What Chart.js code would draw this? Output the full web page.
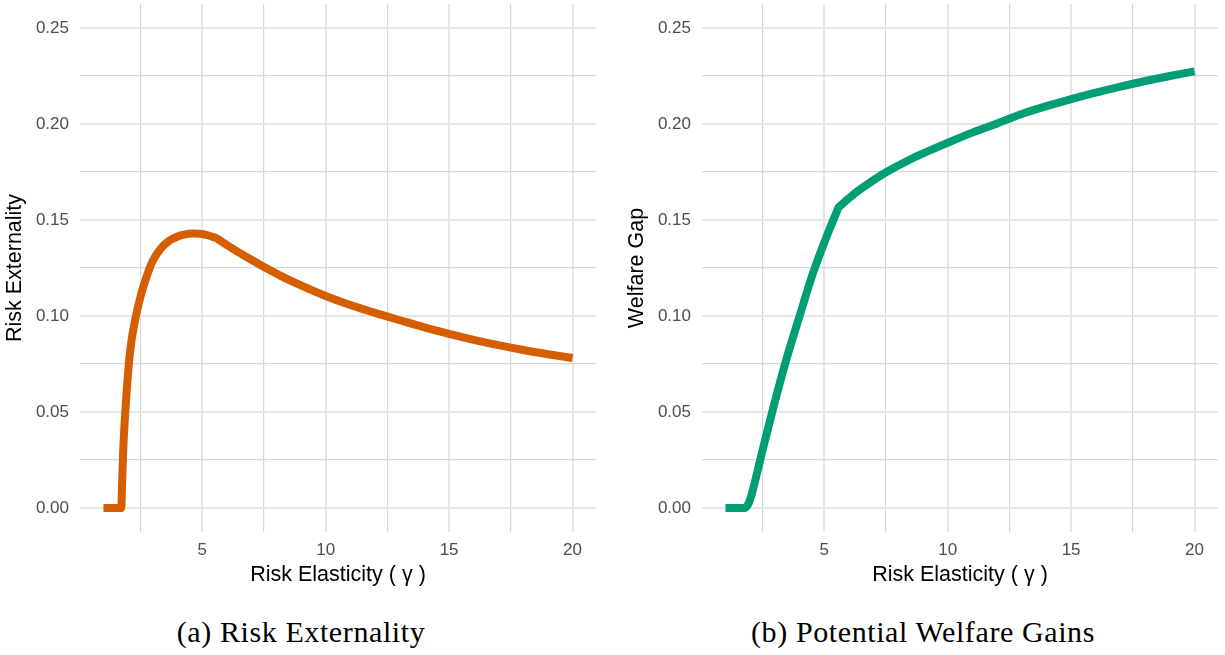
<!DOCTYPE html>
<html>
<head>
<meta charset="utf-8">
<script src="https://cdn.jsdelivr.net/npm/chart.js@4.4.1/dist/chart.umd.min.js"></script>
<style>
    body { margin: 0; background: #fff; width: 1225px; height: 655px; position: relative; overflow: hidden; }
    .panel { position: absolute; top: 0; height: 600px; }
    .caption { position: absolute; top: 615px; font-family: "Liberation Serif", serif; font-size: 30px; letter-spacing: 0.6px; color: #000; transform: translateX(-50%); white-space: nowrap; }
</style>
</head>
<body>
<div class="panel" style="left:0;width:612px"><canvas id="left-chart" width="612" height="600"></canvas></div>
<div class="panel" style="left:622px;width:603px"><canvas id="right-chart" width="603" height="600"></canvas></div>
<div class="caption" style="left:301px">(a) Risk Externality</div>
<div class="caption" style="left:923px">(b) Potential Welfare Gains</div>
<script>
const xTicks = [2.5, 5, 7.5, 10, 12.5, 15, 17.5, 20];
const yTicks = [0, 0.025, 0.05, 0.075, 0.1, 0.125, 0.15, 0.175, 0.2, 0.225, 0.25];

// panel (a): risk externality
const riskX = [1.0, 1.72, 1.76, 1.80, 1.86, 1.93, 2.0, 2.08, 2.17, 2.3, 2.45, 2.61, 2.8, 3.01, 3.3, 3.62, 4.0, 4.3, 4.6, 4.9, 5.2, 5.45, 5.58,
    5.7, 6.2, 6.8, 7.47, 8.2, 9.0, 10, 11, 12, 13, 14, 15, 16, 17, 18, 19, 20];
const riskY = [0, 0, 0.015, 0.03, 0.045, 0.059, 0.071, 0.0815, 0.09, 0.099, 0.1075, 0.115, 0.1225, 0.129, 0.1348, 0.1388, 0.1414, 0.1425, 0.143, 0.1428, 0.1421, 0.1411, 0.1405,
    0.1395, 0.1354, 0.1307, 0.1258, 0.1208, 0.1159, 0.1104, 0.1057, 0.1016, 0.0978, 0.0941, 0.0907, 0.0876, 0.0848, 0.0823, 0.0801, 0.0781];

// panel (b): welfare gap
const gapX = [1.0, 1.78, 1.9, 2.0, 2.11, 2.52, 2.93, 3.47, 4.01, 4.55, 5.1, 5.47, 5.57,
    5.67, 6.2, 7.0, 7.54, 8.2, 8.89, 9.98, 11, 12, 13, 14, 15, 16, 17, 18, 19, 20];
const gapY = [0, 0, 0.0015, 0.0045, 0.0094, 0.031, 0.0518, 0.0775, 0.1003, 0.1225, 0.1415, 0.1531, 0.1563,
    0.1576, 0.1635, 0.1708, 0.1751, 0.1797, 0.184, 0.1901, 0.1955, 0.2003, 0.2052, 0.2093, 0.213, 0.2164, 0.2195, 0.2224, 0.225, 0.2274];

const tickFont = { family: 'Liberation Sans, Arial, sans-serif', size: 17 };
const titleFont = { family: 'Liberation Sans, Arial, sans-serif', size: 21.5 };

function gridStyle(majorOdd) {
    return {
        drawTicks: false,
        color: ctx => ((ctx.index % 2 === 1) === majorOdd ? '#E6E6E6' : '#D6D6D6'),
        lineWidth: ctx => ((ctx.index % 2 === 1) === majorOdd ? 2 : 1.2)
    };
}

function makeChart(id, xs, ys, color, yTitle, rightPad) {
    const points = xs.map((x, i) => ({ x: x, y: ys[i] }));
    return new Chart(document.getElementById(id), {
        type: 'line',
        data: {
            datasets: [{
                data: points,
                borderColor: color,
                borderWidth: 8,
                pointRadius: 0,
                fill: false,
                cubicInterpolationMode: 'monotone',
                borderCapStyle: 'butt',
                borderJoinStyle: 'round'
            }]
        },
        options: {
            responsive: false,
            animation: false,
            layout: { padding: { left: 0, right: rightPad, top: 4, bottom: 0 } },
            plugins: { legend: { display: false }, tooltip: { enabled: false } },
            scales: {
                x: {
                    type: 'linear',
                    min: 0.05,
                    max: 20.95,
                    afterBuildTicks: scale => { scale.ticks = xTicks.map(v => ({ value: v })); },
                    afterFit: scale => {
                        scale.height = 68;
                        scale.paddingLeft = 0;
                        scale.paddingRight = 0;
                    },
                    grid: gridStyle(true),
                    border: { display: false },
                    ticks: {
                        autoSkip: false,
                        maxRotation: 0,
                        padding: 8,
                        color: '#4D4D4D',
                        font: tickFont,
                        callback: (v, i) => (i % 2 === 1 ? String(v) : '')
                    },
                    title: {
                        display: true,
                        text: 'Risk Elasticity ( γ )',
                        color: '#000',
                        font: titleFont,
                        padding: { top: 0, bottom: 12 }
                    }
                },
                y: {
                    type: 'linear',
                    min: -0.0125,
                    max: 0.2625,
                    afterBuildTicks: scale => { scale.ticks = yTicks.map(v => ({ value: v })); },
                    afterFit: scale => {
                        scale.width = 80;
                        scale.paddingTop = 0;
                        scale.paddingBottom = 0;
                    },
                    grid: gridStyle(false),
                    border: { display: false },
                    ticks: {
                        autoSkip: false,
                        padding: 11,
                        color: '#4D4D4D',
                        font: tickFont,
                        callback: (v, i) => (i % 2 === 0 ? v.toFixed(2) : '')
                    },
                    title: {
                        display: true,
                        text: yTitle,
                        color: '#000',
                        font: titleFont,
                        padding: { top: 2, bottom: 0 }
                    }
                }
            }
        }
    });
}

makeChart('left-chart', riskX, riskY, '#D55E00', 'Risk Externality', 16);
makeChart('right-chart', gapX, gapY, '#009E73', 'Welfare Gap', 7);
</script>
</body>
</html>
